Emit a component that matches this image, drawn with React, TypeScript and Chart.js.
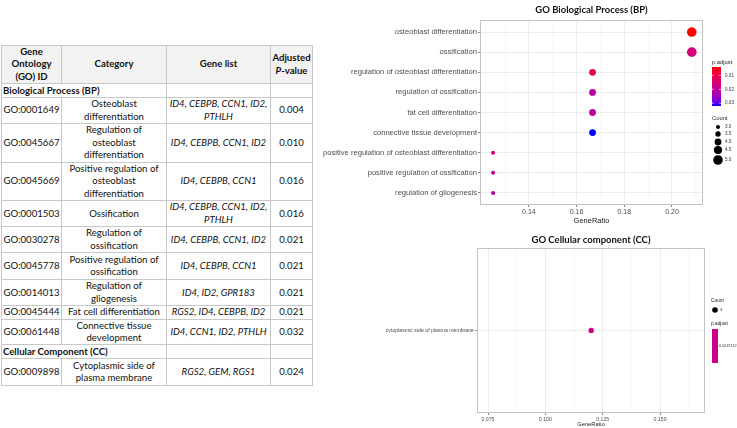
import React, { useEffect, useRef } from "react";
import { Chart, registerables } from "chart.js";
Chart.register(...registerables);

// ---------------- Data ----------------
const bpTerms = [
  "osteoblast differentiation",
  "ossification",
  "regulation of osteoblast differentiation",
  "regulation of ossification",
  "fat cell differentiation",
  "connective tissue development",
  "positive regulation of osteoblast differentiation",
  "positive regulation of ossification",
  "regulation of gliogenesis",
];
const bpGeneRatio = [0.2083, 0.2083, 0.1667, 0.1667, 0.1667, 0.1667, 0.125, 0.125, 0.125];
const bpCount = [5, 5, 4, 4, 4, 4, 3, 3, 3];
const bpPAdjust = [0.004, 0.016, 0.01, 0.021, 0.021, 0.032, 0.016, 0.021, 0.021];
const bpXMajor = [0.14, 0.16, 0.18, 0.2];
const bpXMinor = [0.13, 0.15, 0.17, 0.19, 0.21];
const bpCountLegend = [3.0, 3.5, 4.0, 4.5, 5.0];
const bpPLegend = [0.01, 0.02, 0.03];

const ccTerms = ["cytoplasmic side of plasma membrane"];
const ccGeneRatio = [0.12];
const ccCount = [3];
const ccPAdjust = [0.0247112];
const ccXMajor = [0.075, 0.1, 0.125, 0.15];
const ccXMinor = [0.0875, 0.1125, 0.1375, 0.1625];

const tableHeader = ["Gene\nOntology\n(GO) ID", "Category", "Gene list", "Adjusted\nP-value"];
const bpSection = "Biological Process (BP)";
const bpIds = ["GO:0001649", "GO:0045667", "GO:0045669", "GO:0001503", "GO:0030278", "GO:0045778", "GO:0014013", "GO:0045444", "GO:0061448"];
const bpCategories = [
  "Osteoblast\ndifferentiation",
  "Regulation of\nosteoblast\ndifferentiation",
  "Positive regulation of\nosteoblast\ndifferentiation",
  "Ossification",
  "Regulation of\nossification",
  "Positive regulation of\nossification",
  "Regulation of\ngliogenesis",
  "Fat cell differentiation",
  "Connective tissue\ndevelopment",
];
const bpGenes = [
  "ID4, CEBPB, CCN1, ID2,\nPTHLH",
  "ID4, CEBPB, CCN1, ID2",
  "ID4, CEBPB, CCN1",
  "ID4, CEBPB, CCN1, ID2,\nPTHLH",
  "ID4, CEBPB, CCN1, ID2",
  "ID4, CEBPB, CCN1",
  "ID4, ID2, GPR183",
  "RGS2, ID4, CEBPB, ID2",
  "ID4, CCN1, ID2, PTHLH",
];
const bpPValues = ["0.004", "0.010", "0.016", "0.016", "0.021", "0.021", "0.021", "0.021", "0.032"];
const ccSection = "Cellular Component (CC)";
const ccIds = ["GO:0009898"];
const ccCategories = ["Cytoplasmic side of\nplasma membrane"];
const ccGenes = ["RGS2, GEM, RGS1"];
const ccPValues = ["0.024"];

// ---------------- Styling helpers ----------------
const AXIS_FONT = "'Liberation Sans', Arial, sans-serif";
const TITLE_FONT = "Lato, 'Open Sans', sans-serif";
const P_MIN = Math.min(...bpPAdjust);
const P_MAX = Math.max(...bpPAdjust);

function toLin(c: number) { c /= 255; return c <= 0.04045 ? c / 12.92 : Math.pow((c + 0.055) / 1.055, 2.4); }
function toSrgb(c: number) { const v = c <= 0.0031308 ? 12.92 * c : 1.055 * Math.pow(c, 1 / 2.4) - 0.055; return Math.round(Math.max(0, Math.min(1, v)) * 255); }
function rgbToLab(rgb: number[]) {
  const R = toLin(rgb[0]), G = toLin(rgb[1]), B = toLin(rgb[2]);
  const X = (0.4124 * R + 0.3576 * G + 0.1805 * B) / 0.95047;
  const Y = 0.2126 * R + 0.7152 * G + 0.0722 * B;
  const Z = (0.0193 * R + 0.1192 * G + 0.9505 * B) / 1.08883;
  const f = (t: number) => (t > 0.008856 ? Math.cbrt(t) : 7.787 * t + 16 / 116);
  return [116 * f(Y) - 16, 500 * (f(X) - f(Y)), 200 * (f(Y) - f(Z))];
}
function labToRgb(L: number, a: number, b: number) {
  const fy = (L + 16) / 116, fx = fy + a / 500, fz = fy - b / 200;
  const fi = (t: number) => (t * t * t > 0.008856 ? t * t * t : (t - 16 / 116) / 7.787);
  const X = 0.95047 * fi(fx), Y = fi(fy), Z = 1.08883 * fi(fz);
  const R = 3.2406 * X - 1.5372 * Y - 0.4986 * Z;
  const G = -0.9689 * X + 1.8758 * Y + 0.0415 * Z;
  const B = 0.0557 * X - 0.204 * Y + 1.057 * Z;
  return `rgb(${toSrgb(R)},${toSrgb(G)},${toSrgb(B)})`;
}
const LAB_LOW = rgbToLab([255, 0, 0]);
const LAB_HIGH = rgbToLab([0, 0, 255]);
function gradColor(t: number) {
  t = Math.max(0, Math.min(1, t));
  return labToRgb(
    LAB_LOW[0] + (LAB_HIGH[0] - LAB_LOW[0]) * t,
    LAB_LOW[1] + (LAB_HIGH[1] - LAB_LOW[1]) * t,
    LAB_LOW[2] + (LAB_HIGH[2] - LAB_LOW[2]) * t
  );
}
const pColor = (p: number) => gradColor((p - P_MIN) / (P_MAX - P_MIN));
const sizeOf = (c: number) => 2 + (c - 3) * 1.4;
const near = (a: number, list: number[]) => list.some((v) => Math.abs(v - a) < 1e-9);

function makeXScale(min: number, max: number, major: number[], minor: number[], digits: number, fontSize: number, titleSize: number, titlePad: number, height: number) {
  const all = [...major, ...minor].sort((a, b) => a - b);
  return {
    type: "linear",
    min,
    max,
    afterBuildTicks: (s: any) => { s.ticks = all.map((v) => ({ value: v })); },
    afterFit: (s: any) => { s.height = height; },
    ticks: {
      autoSkip: false,
      maxRotation: 0,
      padding: 1,
      color: "#4d4d4d",
      font: { family: AXIS_FONT, size: fontSize },
      callback: (v: number) => (near(v, major) ? Number(v).toFixed(digits) : ""),
    },
    grid: {
      color: (ctx: any) => (ctx.tick && near(ctx.tick.value, major) ? "#e8e8e8" : "#f3f3f3"),
      lineWidth: (ctx: any) => (ctx.tick && near(ctx.tick.value, major) ? 0.8 : 0.6),
      tickColor: (ctx: any) => (ctx.tick && near(ctx.tick.value, major) ? "#555" : "rgba(0,0,0,0)"),
      tickLength: 2,
      tickWidth: 0.7,
    },
    border: { display: false },
    title: { display: true, text: "GeneRatio", color: "#222", font: { family: AXIS_FONT, size: titleSize }, padding: { top: 0, bottom: titlePad } },
  };
}

function makeYScale(terms: string[], fontSize: number, width: number) {
  return {
    type: "linear",
    reverse: true,
    min: -0.6,
    max: terms.length - 1 + 0.6,
    afterBuildTicks: (s: any) => { s.ticks = terms.map((_, i) => ({ value: i })); },
    afterFit: (s: any) => { s.width = width; },
    ticks: {
      autoSkip: false,
      padding: 1,
      color: "#4d4d4d",
      font: { family: AXIS_FONT, size: fontSize },
      callback: (v: number) => terms[Math.round(v)] ?? "",
    },
    grid: { color: "#e8e8e8", lineWidth: 0.8, tickColor: "#555", tickLength: 2, tickWidth: 0.7 },
    border: { display: false },
  };
}

function decorPlugin(title: string, titleY: number, drawLegend: (ctx: CanvasRenderingContext2D) => void) {
  return {
    id: "ggDecor",
    afterDraw(chart: any) {
      const ctx: CanvasRenderingContext2D = chart.ctx;
      const a = chart.chartArea;
      ctx.save();
      ctx.strokeStyle = "#c4c4c4";
      ctx.lineWidth = 1;
      ctx.strokeRect(a.left + 0.5, a.top + 0.5, a.right - a.left - 1, a.bottom - a.top - 1);
      ctx.fillStyle = "#111";
      ctx.font = `bold 9.5px ${TITLE_FONT}`;
      ctx.textAlign = "center";
      ctx.textBaseline = "middle";
      ctx.fillText(title, (a.left + a.right) / 2, titleY);
      drawLegend(ctx);
      ctx.restore();
    },
  };
}

function txt(ctx: CanvasRenderingContext2D, s: string, x: number, y: number, size: number, color = "#333") {
  ctx.font = `${size}px ${AXIS_FONT}`;
  ctx.fillStyle = color;
  ctx.textAlign = "left";
  ctx.textBaseline = "middle";
  ctx.fillText(s, x, y);
}

function bpLegend(ctx: CanvasRenderingContext2D) {
  txt(ctx, "p.adjust", 442, 62, 5.8, "#222");
  const top = 67, bot = 106, x0 = 442, w = 9;
  const g = ctx.createLinearGradient(0, top, 0, bot);
  for (let i = 0; i <= 10; i++) g.addColorStop(i / 10, gradColor(i / 10));
  ctx.fillStyle = g;
  ctx.fillRect(x0, top, w, bot - top);
  bpPLegend.forEach((p) => {
    const y = top + ((p - P_MIN) / (P_MAX - P_MIN)) * (bot - top);
    ctx.strokeStyle = "#fff";
    ctx.lineWidth = 0.6;
    ctx.beginPath();
    ctx.moveTo(x0, y); ctx.lineTo(x0 + 2, y);
    ctx.moveTo(x0 + w - 2, y); ctx.lineTo(x0 + w, y);
    ctx.stroke();
    txt(ctx, p.toFixed(2), 455, y, 4.6);
  });
  txt(ctx, "Count", 442, 118, 5.8, "#222");
  const ys = [127, 134, 142, 150, 160];
  bpCountLegend.forEach((c, i) => {
    ctx.fillStyle = "#000";
    ctx.beginPath();
    ctx.arc(448, ys[i], sizeOf(c), 0, Math.PI * 2);
    ctx.fill();
    txt(ctx, c.toFixed(1), 455, ys[i], 4.6);
  });
}

function ccLegend(ctx: CanvasRenderingContext2D) {
  txt(ctx, "Count", 441, 71, 4.8, "#222");
  ctx.fillStyle = "#000";
  ctx.beginPath();
  ctx.arc(445, 80, 2.8, 0, Math.PI * 2);
  ctx.fill();
  txt(ctx, String(ccCount[0]), 450, 80, 4);
  txt(ctx, "p.adjust", 441, 94, 4.8, "#222");
  ctx.fillStyle = gradColor(0.5);
  ctx.fillRect(442, 99, 6, 34);
  txt(ctx, String(ccPAdjust[0]), 449, 116, 3.8);
}

function bpConfig(): any {
  return {
    type: "scatter",
    data: {
      datasets: [{
        data: bpGeneRatio.map((x, i) => ({ x, y: i })),
        pointRadius: bpCount.map(sizeOf),
        pointHoverRadius: bpCount.map(sizeOf),
        backgroundColor: bpPAdjust.map(pColor),
        borderWidth: 0,
      }],
    },
    options: {
      animation: false,
      responsive: false,
      events: [],
      layout: { padding: { left: 0, top: 20, right: 34, bottom: 0 } },
      plugins: { legend: { display: false }, tooltip: { enabled: false }, title: { display: false } },
      scales: {
        x: makeXScale(0.1195, 0.213, bpXMajor, bpXMinor, 2, 7, 7.5, 5, 25),
        y: makeYScale(bpTerms, 7.6, 210),
      },
    },
    plugins: [decorPlugin("GO Biological Process (BP)", 10, bpLegend)],
  };
}

function ccConfig(): any {
  return {
    type: "scatter",
    data: {
      datasets: [{
        data: ccGeneRatio.map((x, i) => ({ x, y: i })),
        pointRadius: 2.7,
        pointHoverRadius: 2.7,
        backgroundColor: ccPAdjust.map(() => gradColor(0.5)),
        borderWidth: 0,
      }],
    },
    options: {
      animation: false,
      responsive: false,
      events: [],
      layout: { padding: { left: 0, top: 18, right: 32, bottom: 0 } },
      plugins: { legend: { display: false }, tooltip: { enabled: false }, title: { display: false } },
      scales: {
        x: makeXScale(0.0702, 0.1696, ccXMajor, ccXMinor, 3, 5.2, 5.8, 0, 15),
        y: makeYScale(ccTerms, 5.2, 207),
      },
    },
    plugins: [decorPlugin("GO Cellular component (CC)", 10, ccLegend)],
  };
}

function ChartBox({ left, top, width, height, make }: { left: number; top: number; width: number; height: number; make: () => any }) {
  const ref = useRef<HTMLCanvasElement | null>(null);
  useEffect(() => {
    if (!ref.current) return;
    const chart = new Chart(ref.current, make());
    return () => chart.destroy();
  }, []);
  return (
    <canvas
      ref={ref}
      width={width}
      height={height}
      style={{ position: "absolute", left, top, width, height }}
    />
  );
}

// ---------------- Table ----------------
const border = "1px solid #c8c8c8";
const cellBase: React.CSSProperties = {
  border,
  padding: 0,
  textAlign: "center",
  verticalAlign: "middle",
  whiteSpace: "nowrap",
  lineHeight: "12.4px",
  overflow: "hidden",
};

function lines(s: string, italic = false) {
  const parts = s.split("\n");
  return parts.map((p, i) => (
    <React.Fragment key={i}>
      {italic ? <i>{p}</i> : p}
      {i < parts.length - 1 ? <br /> : null}
    </React.Fragment>
  ));
}

const bpRowHeights = [25, 39, 38, 26, 26, 27, 26, 12, 25];
const ccRowHeights = [27];

function GoTable() {
  const header = (
    <tr style={{ height: 38, background: "#f2f2f2" }}>
      {tableHeader.map((h, i) => (
        <th key={i} style={{ ...cellBase, fontWeight: "bold" }}>
          {i === 3 ? (<>Adjusted<br /><span style={{ fontStyle: "italic" }}>P</span>-value</>) : lines(h)}
        </th>
      ))}
    </tr>
  );
  const section = (label: string) => (
    <tr style={{ height: 14 }}>
      <td colSpan={2} style={{ ...cellBase, textAlign: "left", fontWeight: "bold", paddingLeft: 1 }}>{label}</td>
      <td style={cellBase}></td>
      <td style={cellBase}></td>
    </tr>
  );
  const rows = (ids: string[], cats: string[], genes: string[], ps: string[], hs: number[]) =>
    ids.map((id, i) => (
      <tr key={id} style={{ height: hs[i] }}>
        <td style={cellBase}>{id}</td>
        <td style={cellBase}>{lines(cats[i])}</td>
        <td style={cellBase}>{lines(genes[i], true)}</td>
        <td style={cellBase}>{ps[i]}</td>
      </tr>
    ));
  return (
    <table
      style={{
        position: "absolute",
        left: 1,
        top: 45,
        width: 311,
        borderCollapse: "collapse",
        tableLayout: "fixed",
        fontFamily: "Lato, 'Open Sans', sans-serif",
        fontSize: "9.6px",
        color: "#111",
      }}
    >
      <colgroup>
        <col style={{ width: 60 }} />
        <col style={{ width: 105 }} />
        <col style={{ width: 104 }} />
        <col style={{ width: 42 }} />
      </colgroup>
      <tbody>
        {header}
        {section(bpSection)}
        {rows(bpIds, bpCategories, bpGenes, bpPValues, bpRowHeights)}
        {section(ccSection)}
        {rows(ccIds, ccCategories, ccGenes, ccPValues, ccRowHeights)}
      </tbody>
    </table>
  );
}

export default function App() {
  return (
    <div style={{ position: "absolute", left: 0, top: 0, width: 737, height: 428, background: "#fff", overflow: "hidden" }}>
      <GoTable />
      <ChartBox left={270} top={0} width={467} height={230} make={bpConfig} />
      <ChartBox left={270} top={230} width={467} height={198} make={ccConfig} />
    </div>
  );
}
